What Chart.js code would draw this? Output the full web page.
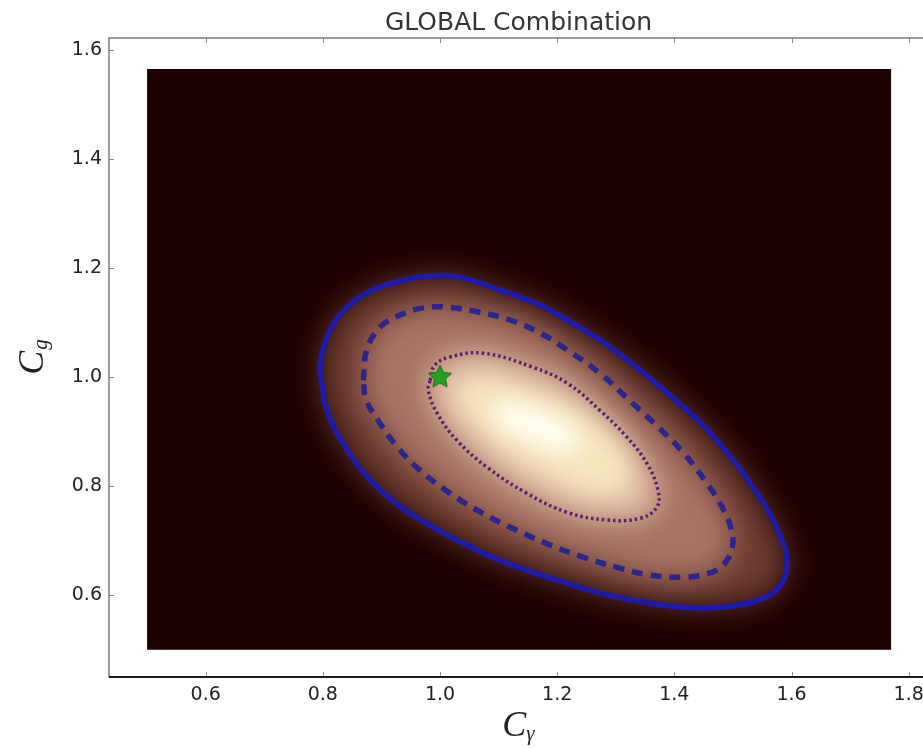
<!DOCTYPE html>
<html>
<head>
<meta charset="utf-8">
<title>GLOBAL Combination</title>
<script src="https://cdn.jsdelivr.net/npm/chart.js@4.4.1/dist/chart.umd.min.js"></script>
<style>
  html, body { margin: 0; padding: 0; background: #fff; overflow: hidden; }
  canvas { display: block; }
</style>
</head>
<body>
<canvas id="chart" width="945" height="748"></canvas>
<script>
const xTicks = [0.6, 0.8, 1.0, 1.2, 1.4, 1.6, 1.8];
const yTicks = [0.6, 0.8, 1.0, 1.2, 1.4, 1.6];

// extent of the likelihood map
const mapX = [0.5, 1.77];
const mapY = [0.5, 1.565];

// outer contour (solid)
const contourSolid = [
  [0.795, 1.013], [0.800, 1.050], [0.818, 1.098], [0.848, 1.135], [0.885, 1.160],
  [0.930, 1.176], [0.978, 1.185], [1.034, 1.183], [1.102, 1.160], [1.171, 1.132],
  [1.217, 1.105], [1.273, 1.068], [1.329, 1.024], [1.387, 0.972], [1.444, 0.917],
  [1.490, 0.862], [1.529, 0.806], [1.560, 0.755], [1.580, 0.710], [1.592, 0.670],
  [1.588, 0.632], [1.568, 0.604], [1.535, 0.588], [1.478, 0.578], [1.415, 0.578],
  [1.329, 0.591], [1.273, 0.604], [1.217, 0.622], [1.159, 0.642], [1.102, 0.664],
  [1.046, 0.692], [0.988, 0.725], [0.932, 0.763], [0.881, 0.811], [0.838, 0.872],
  [0.807, 0.939]
];

// middle contour (dashed)
const contourDashed = [
  [0.869, 0.994], [0.875, 1.050], [0.898, 1.092], [0.932, 1.114], [0.971, 1.127],
  [1.017, 1.128], [1.068, 1.119], [1.119, 1.105], [1.171, 1.081], [1.217, 1.050],
  [1.273, 1.007], [1.329, 0.952], [1.375, 0.906], [1.415, 0.862], [1.452, 0.811],
  [1.481, 0.763], [1.497, 0.722], [1.499, 0.687], [1.484, 0.656], [1.458, 0.640],
  [1.415, 0.633], [1.358, 0.637], [1.302, 0.651], [1.244, 0.670], [1.188, 0.692],
  [1.131, 0.719], [1.073, 0.750], [1.017, 0.787], [0.966, 0.829], [0.927, 0.872],
  [0.894, 0.921], [0.874, 0.958]
];

// inner contour (dotted)
const contourDotted = [
  [0.983, 0.994], [0.991, 1.022], [1.017, 1.037], [1.073, 1.044], [1.159, 1.018],
  [1.217, 0.989], [1.273, 0.939], [1.319, 0.890], [1.353, 0.842], [1.372, 0.793],
  [1.370, 0.761], [1.341, 0.741], [1.285, 0.738], [1.217, 0.752], [1.148, 0.787],
  [1.080, 0.835], [1.029, 0.884], [0.995, 0.934], [0.980, 0.976]
];

// bright core of the likelihood
const coreRegion = [
  [1.026, 0.985], [1.068, 1.004], [1.137, 0.985], [1.222, 0.949], [1.290, 0.894],
  [1.324, 0.839], [1.316, 0.793], [1.265, 0.783], [1.196, 0.811], [1.119, 0.857],
  [1.060, 0.912], [1.026, 0.958]
];
const peakRegion = [
  [1.094, 0.958], [1.154, 0.949], [1.222, 0.912], [1.239, 0.875], [1.205, 0.862],
  [1.145, 0.884], [1.094, 0.921]
];

const bestFit = [[1.0, 1.0]];

const xMin = 0.435, xMax = 1.833;
const yMin = 0.45, yMax = 1.622;

const loop = arr => arr.concat([arr[0]]).map(([x, y]) => ({ x, y }));
const mapRect = [
  [mapX[0], mapY[0]], [mapX[1], mapY[0]], [mapX[1], mapY[1]], [mapX[0], mapY[1]]
];

function starImage(size, color) {
  const c = document.createElement("canvas");
  c.width = c.height = size;
  const g = c.getContext("2d");
  const r = size / 2;
  g.beginPath();
  for (let i = 0; i < 10; i++) {
    const a = -Math.PI / 2 + i * Math.PI / 5;
    const rr = i % 2 ? r * 0.45 : r - 1;
    g.lineTo(r + rr * Math.cos(a), r + rr * Math.sin(a));
  }
  g.closePath();
  g.fillStyle = color;
  g.fill();
  g.strokeStyle = "#146e14";
  g.lineWidth = 1;
  g.stroke();
  return c;
}

// filled, optionally blurred shapes under the contours
const glowPlugin = {
  id: "glow",
  beforeDatasetDraw(chart, args) {
    const ds = chart.data.datasets[args.index];
    if (!ds.glowColor) return;
    const ctx = chart.ctx;
    const line = args.meta.dataset;
    if (line.updateControlPoints) line.updateControlPoints(chart.chartArea, "x");
    ctx.save();
    if (ds.blur) ctx.filter = "blur(" + ds.blur + "px)";
    ctx.beginPath();
    line.path(ctx);
    ctx.closePath();
    ctx.fillStyle = ds.glowColor;
    ctx.fill();
    ctx.restore();
  }
};

// frame, inward ticks, title and axis labels
const framePlugin = {
  id: "frame",
  afterDraw(chart) {
    const ctx = chart.ctx;
    const a = chart.chartArea;
    const xs = chart.scales.x, ys = chart.scales.y;
    ctx.save();
    ctx.strokeStyle = "#8a8a8a";
    ctx.lineWidth = 1;
    xTicks.forEach(v => {
      const px = Math.round(xs.getPixelForValue(v)) + 0.5;
      ctx.beginPath();
      ctx.moveTo(px, a.bottom); ctx.lineTo(px, a.bottom - 5);
      ctx.moveTo(px, a.top); ctx.lineTo(px, a.top + 5);
      ctx.stroke();
    });
    yTicks.forEach(v => {
      const py = Math.round(ys.getPixelForValue(v)) + 0.5;
      ctx.beginPath();
      ctx.moveTo(a.left, py); ctx.lineTo(a.left + 5, py);
      ctx.moveTo(a.right, py); ctx.lineTo(a.right - 5, py);
      ctx.stroke();
    });

    ctx.strokeStyle = "#7a7a7a";
    ctx.lineWidth = 1.5;
    ctx.beginPath();
    ctx.moveTo(a.left, a.bottom); ctx.lineTo(a.left, a.top);
    ctx.lineTo(a.right, a.top); ctx.lineTo(a.right, a.bottom);
    ctx.stroke();
    ctx.strokeStyle = "#1a1a1a";
    ctx.lineWidth = 2;
    ctx.beginPath();
    ctx.moveTo(a.left, a.bottom); ctx.lineTo(a.right, a.bottom);
    ctx.stroke();

    const cx = (a.left + a.right) / 2;
    ctx.fillStyle = "#333";
    ctx.font = '25px "DejaVu Sans"';
    ctx.textAlign = "center";
    ctx.textBaseline = "middle";
    ctx.fillText("GLOBAL Combination", cx, 23);

    // x label: C with subscript gamma
    ctx.textAlign = "left";
    ctx.textBaseline = "alphabetic";
    const big = 'italic 36px "Liberation Serif"';
    const small = 'italic 21px "Liberation Serif"';
    ctx.font = big;
    const wC = ctx.measureText("C").width;
    ctx.font = small;
    const wG = ctx.measureText("\u03b3").width;
    let x0 = cx - (wC + wG) / 2;
    ctx.fillStyle = "#222";
    ctx.font = big;
    ctx.fillText("C", x0, 736);
    ctx.font = small;
    ctx.fillText("\u03b3", x0 + wC, 740);

    // y label: C with subscript g, rotated
    const cy = (a.top + a.bottom) / 2;
    ctx.translate(43, cy);
    ctx.rotate(-Math.PI / 2);
    ctx.font = small;
    const wg = ctx.measureText("g").width;
    x0 = -(wC + wg) / 2;
    ctx.font = big;
    ctx.fillText("C", x0, 0);
    ctx.font = small;
    ctx.fillText("g", x0 + wC + 1, 4);
    ctx.restore();
  }
};

const shape = (data, color, blur, order) => ({
  data: loop(data),
  showLine: true,
  borderWidth: 0,
  pointRadius: 0,
  tension: 0.4,
  glowColor: color,
  blur: blur,
  order: order
});

const tickFont = { family: "DejaVu Sans", size: 19 };

new Chart(document.getElementById("chart"), {
  type: "scatter",
  data: {
    datasets: [
      {
        label: "best fit",
        data: bestFit.map(([x, y]) => ({ x, y })),
        pointStyle: starImage(26, "#22a022"),
        pointRadius: 13,
        order: 0
      },
      {
        label: "inner",
        data: loop(contourDotted),
        showLine: true,
        borderColor: "#562070",
        borderWidth: 3.5,
        borderDash: [2.5, 3],
        pointRadius: 0,
        tension: 0.4,
        order: 1
      },
      {
        label: "middle",
        data: loop(contourDashed),
        showLine: true,
        borderColor: "#2b2590",
        borderWidth: 5.5,
        borderDash: [11, 8],
        pointRadius: 0,
        tension: 0.4,
        order: 2
      },
      {
        label: "outer",
        data: loop(contourSolid),
        showLine: true,
        borderColor: "#1c1ca8",
        borderWidth: 5.5,
        pointRadius: 0,
        tension: 0.4,
        order: 3
      },
      shape(peakRegion, "#fffdf0", 10, 10),
      shape(coreRegion, "#f6e6bc", 12, 11),
      shape(contourDotted, "#e0bca6", 14, 12),
      shape(contourDashed, "#a87464", 14, 13),
      shape(contourSolid, "#6e3c30", 15, 14),
      Object.assign(shape(mapRect, "#1e0000", 0, 20), { tension: 0 })
    ]
  },
  options: {
    responsive: false,
    devicePixelRatio: 1,
    animation: false,
    // canvas is wider than the window: the right spine sits just past the edge
    layout: { padding: { top: 38, right: 17, bottom: 0, left: 0 } },
    plugins: {
      legend: { display: false },
      tooltip: { enabled: false },
      title: { display: false }
    },
    scales: {
      x: {
        type: "linear",
        min: xMin,
        max: xMax,
        grid: { display: false, drawTicks: false },
        border: { display: false },
        ticks: {
          font: tickFont,
          color: "#222",
          padding: 7,
          autoSkip: false,
          maxRotation: 0,
          callback: v => v.toFixed(1)
        },
        afterBuildTicks: s => { s.ticks = xTicks.map(v => ({ value: v })); },
        afterFit: s => { s.height = 71; }
      },
      y: {
        type: "linear",
        min: yMin,
        max: yMax,
        grid: { display: false, drawTicks: false },
        border: { display: false },
        ticks: {
          font: tickFont,
          color: "#222",
          padding: 7,
          autoSkip: false,
          callback: v => v.toFixed(1)
        },
        afterBuildTicks: s => { s.ticks = yTicks.map(v => ({ value: v })); },
        afterFit: s => { s.width = 109; }
      }
    }
  },
  plugins: [glowPlugin, framePlugin]
});
</script>
</body>
</html>
